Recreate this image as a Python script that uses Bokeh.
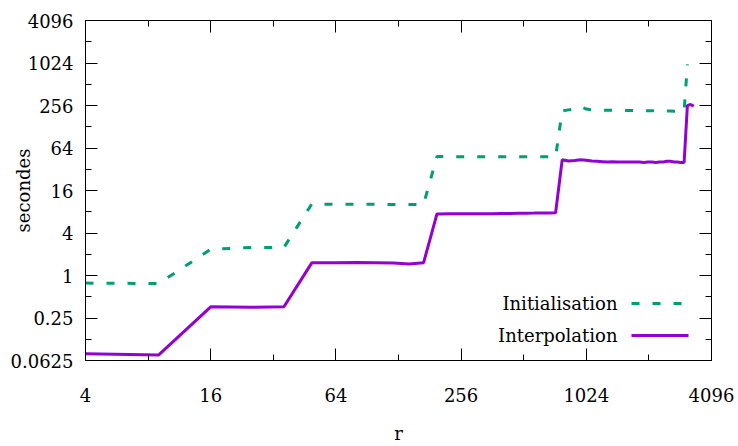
from bokeh.plotting import figure
from bokeh.models import FixedTicker, LogAxis, Label, Arrow
from bokeh.embed import file_html
from bokeh.resources import INLINE

nan = float("nan")

# r values (x)
r = [4, 9, 16, 25, 36, 49, 64, 81, 100, 121, 144, 169, 196, 225, 256, 289,
     324, 361, 400, 441, 484, 529, 576, 625, 676, 729, 784, 841, 900, 961,
     1024, 1089, 1156, 1225, 1296, 1369, 1444, 1521, 1600, 1681, 1764, 1849,
     1936, 2025, 2116, 2209, 2304, 2401, 2500, 2601, 2704, 2809, 2916, 3025,
     3136, 3249, 3364]

# Initialisation (seconds)
initialisation = [0.78, 0.77,
                  2.35, 2.5, 2.5,
                  10.3, 10.2, 10.2, 10.2, 10.1, 10.1, 10.2,
                  48.5, 48.5, 48, 48, 48, 48, 48, 48, 48, 48, 48, 48, 48, 48,
                  215, 222, 228, 248, 228, 222, 220, 220, 219, 219, 218, 218,
                  218, 218, 217, 217, 216, 216, 216, 215, 215, 215, 214, 214,
                  213, 213, 212, 212,
                  980, nan, nan]

# Interpolation (seconds)
interpolation = [0.078, 0.075,
                 0.36, 0.355, 0.36,
                 1.51, 1.52, 1.53, 1.52, 1.50, 1.46, 1.52,
                 7.45, 7.5, 7.5, 7.5, 7.5, 7.5, 7.55, 7.55, 7.6, 7.6, 7.65,
                 7.7, 7.7, 7.75,
                 43.5, 42, 42.5, 43.5, 43, 42, 41.5, 41, 40.5, 41, 40.5, 40.5,
                 40.5, 40.5, 40.5, 40.5, 40, 40.5, 40.5, 40, 40.5, 40.5, 41.5,
                 41.5, 40.5, 40.5, 40, 40,
                 255, 265, 250]

x_ticks = [4, 16, 64, 256, 1024, 4096]
x_minor = [8, 32, 128, 512, 2048]
x_labels = ["4", "16", "64", "256", "1024", "4096"]
y_ticks = [0.0625, 0.25, 1, 4, 16, 64, 256, 1024, 4096]
y_minor = [0.125, 0.5, 2, 8, 32, 128, 512, 2048]
y_labels = ["0.0625", "0.25", "1", "4", "16", "64", "256", "1024", "4096"]

series_names = ["Initialisation", "Interpolation"]
green = "#009e73"
purple = "#9400d3"
FONT = "DejaVu Serif"
FS = "18px"

p = figure(width=738, height=446, x_axis_type="log", y_axis_type="log",
           x_range=(4, 4096), y_range=(0.0625, 4096),
           output_backend="svg", toolbar_location=None,
           min_border_left=85, min_border_right=27, min_border_top=20,
           min_border_bottom=86)
p.grid.visible = False
p.outline_line_color = "black"
p.outline_line_width = 1
p.background_fill_color = "white"
p.border_fill_color = "white"

p.line(r, initialisation, line_color=green, line_width=3, line_dash="8 13")
p.line(r, interpolation, line_color=purple, line_width=3)


def style_axis(ax, ticks, minor, labels, show):
    ax.ticker = FixedTicker(ticks=ticks, minor_ticks=minor)
    ax.major_tick_in = 12
    ax.major_tick_out = 0
    ax.minor_tick_in = 6
    ax.minor_tick_out = 0
    ax.major_tick_line_color = "black"
    ax.minor_tick_line_color = "black"
    ax.axis_line_color = "black"
    ax.major_label_text_font = FONT
    ax.major_label_text_font_size = FS
    ax.major_label_text_color = "black"
    if show:
        ax.major_label_overrides = {t: l for t, l in zip(ticks, labels)}
    else:
        ax.major_label_overrides = {t: "" for t in ticks}
        ax.major_label_standoff = 0


xb = p.xaxis[0]
style_axis(xb, x_ticks, x_minor, x_labels, True)
xb.major_label_standoff = 27
xb.axis_label = "r"
xb.axis_label_text_font = FONT
xb.axis_label_text_font_size = FS
xb.axis_label_text_font_style = "normal"
xb.axis_label_text_color = "black"
xb.axis_label_standoff = 18

yl = p.yaxis[0]
style_axis(yl, y_ticks, y_minor, y_labels, True)
yl.major_label_standoff = 12
yl.axis_label = "secondes"
yl.axis_label_text_font = FONT
yl.axis_label_text_font_size = FS
yl.axis_label_text_font_style = "normal"
yl.axis_label_text_color = "black"
yl.axis_label_standoff = -26

xt = LogAxis()
style_axis(xt, x_ticks, x_minor, x_labels, False)
p.add_layout(xt, "above")
yr = LogAxis()
style_axis(yr, y_ticks, y_minor, y_labels, False)
p.add_layout(yr, "right")

# legend (label right, sample to the right)
leg_y = [57, 25]
leg_colors = [green, purple]
leg_dash = ["8 13", "solid"]
for name, yy, c, d in zip(series_names, leg_y, leg_colors, leg_dash):
    p.add_layout(Label(x=532, y=yy, x_units="screen", y_units="screen",
                       text=name, text_align="right", text_baseline="middle",
                       text_font=FONT, text_font_size=FS, text_color="black"))
    p.add_layout(Arrow(end=None, start=None, x_start=546, y_start=yy,
                       x_end=603, y_end=yy, start_units="screen",
                       end_units="screen", line_color=c, line_width=3,
                       line_dash=d))

open("out.html", "w").write(file_html(p, INLINE))
